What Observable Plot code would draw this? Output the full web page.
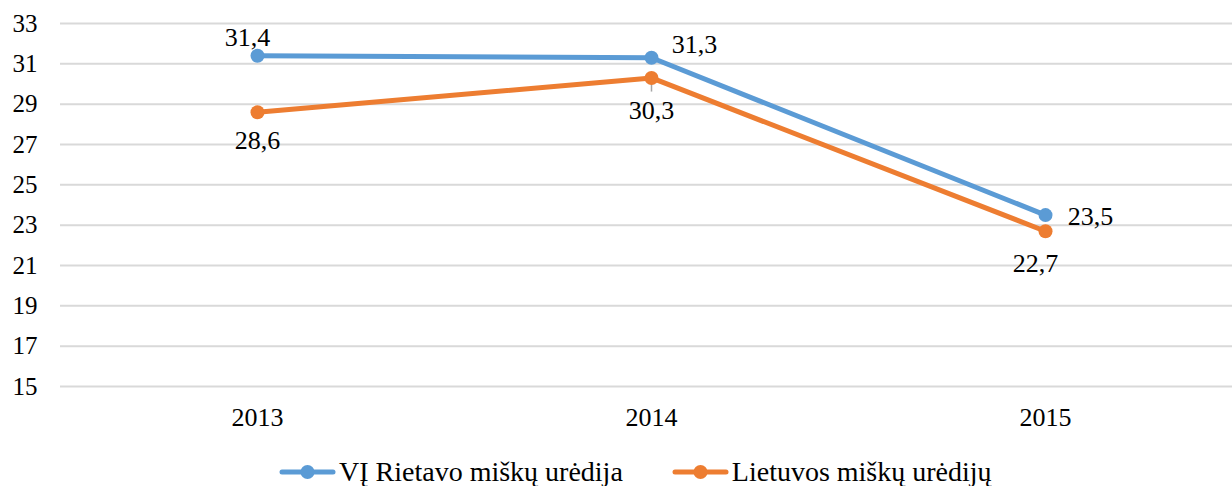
<!DOCTYPE html>
<html>
<head>
<meta charset="utf-8">
<script src="https://cdn.jsdelivr.net/npm/d3@7"></script>
<script src="https://cdn.jsdelivr.net/npm/@observablehq/plot@0.6"></script>
</head>
<body style="margin:0;padding:0;background:#fff;overflow:hidden;">
<div id="chart"></div>
<div id="legend"></div>
<script>
const years = ["2013", "2014", "2015"];
const seriesNames = ["VĮ Rietavo miškų urėdija", "Lietuvos miškų urėdijų"];
const rietavo = [31.4, 31.3, 23.5];
const lietuvos = [28.6, 30.3, 22.7];
const yTicks = [15, 17, 19, 21, 23, 25, 27, 29, 31, 33];
const colors = ["#5B9BD5", "#ED7D31"];
const FONT = "'Liberation Serif', 'Times New Roman', serif";

const data = [];
years.forEach((y, i) => {
  data.push({year: y, value: rietavo[i], series: seriesNames[0], idx: i});
  data.push({year: y, value: lietuvos[i], series: seriesNames[1], idx: i});
});
const fmt = v => v.toFixed(1).replace(".", ",");

// label offsets in pixels (style, not data)
const offsets = {
  [seriesNames[0]]: [[-10, -18], [43, -13], [45, 2]],
  [seriesNames[1]]: [[0, 28], [0, 33], [-10, 32]]
};
const labelMarks = [];
for (const s of seriesNames) {
  data.filter(d => d.series === s).forEach(d => {
    const [dx, dy] = offsets[s][d.idx];
    labelMarks.push(Plot.text([d], {x: "year", y: "value", text: d => fmt(d.value), dx, dy,
      fontSize: 26, fill: "#000", textAnchor: "middle", lineAnchor: "middle"}));
  });
}

const plot = Plot.plot({
  width: 1232,
  height: 445,
  marginLeft: 60,
  marginRight: 0,
  marginTop: 23,
  marginBottom: 59,
  style: {fontFamily: FONT, fontSize: "25px", color: "#000", background: "#fff"},
  x: {type: "point", domain: years, range: [257, 1045], padding: 0, label: null},
  y: {domain: [15, 33], label: null},
  color: {domain: seriesNames, range: colors},
  marks: [
    Plot.ruleY(yTicks, {stroke: "#d9d9d9", strokeWidth: 2}),
    Plot.axisY({ticks: yTicks, tickSize: 0, tickPadding: 23, label: null, fontSize: 25, textAnchor: "end"}),
    Plot.axisX({tickSize: 0, tickPadding: 21, label: null, fontSize: 26}),
    Plot.ruleX([years[1]], {y1: 30.3, y2: 29.6, stroke: "#a6a6a6", strokeWidth: 1.5}),
    Plot.line(data, {x: "year", y: "value", z: "series", stroke: "series", strokeWidth: 5, curve: "linear"}),
    Plot.dot(data, {x: "year", y: "value", fill: "series", r: 7, stroke: null}),
    ...labelMarks
  ]
});
plot.style.display = "block";
document.getElementById("chart").appendChild(plot);

const legend = document.getElementById("legend");
Object.assign(legend.style, {display: "flex", alignItems: "center", fontFamily: FONT, fontSize: "28px",
  color: "#000", height: "54px", paddingLeft: "279px", boxSizing: "border-box", whiteSpace: "nowrap"});
seriesNames.forEach((s, i) => {
  const item = document.createElement("div");
  Object.assign(item.style, {display: "flex", alignItems: "center", marginRight: "49px"});
  item.innerHTML = `<svg width="57" height="18" style="display:block;margin-right:3px"><line x1="3" x2="54" y1="9" y2="9" stroke="${colors[i]}" stroke-width="5" stroke-linecap="round"/><circle cx="28.5" cy="9" r="7" fill="${colors[i]}"/></svg><span>${s}</span>`;
  legend.appendChild(item);
});
</script>
</body>
</html>
